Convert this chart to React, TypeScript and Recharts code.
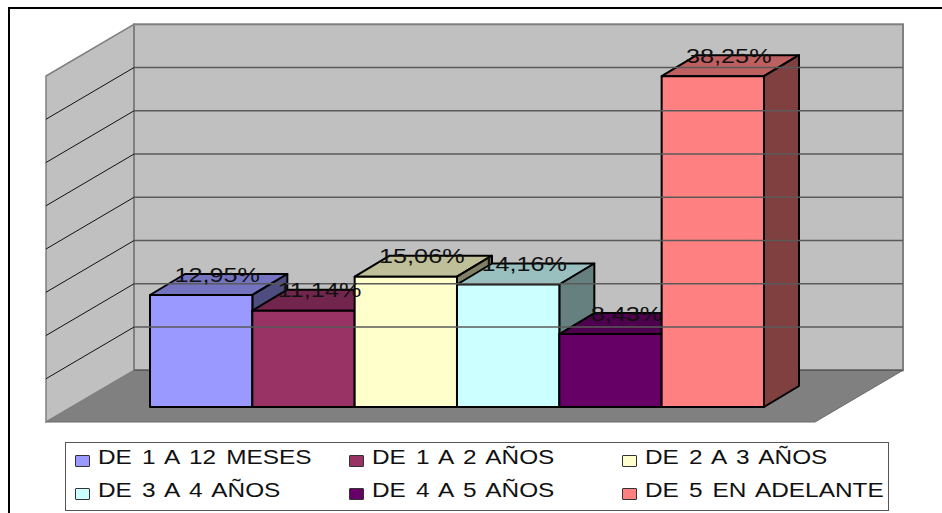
import React from 'react';
import { BarChart, Bar, XAxis, YAxis, ReferenceArea, ReferenceLine, LabelList, Legend } from 'recharts';

const categories = ['DE 1 A 12 MESES', 'DE 1 A 2 AÑOS', 'DE 2 A 3 AÑOS', 'DE 3 A 4 AÑOS', 'DE 4 A 5 AÑOS', 'DE 5 EN ADELANTE'];
const values = [12.95, 11.14, 15.06, 14.16, 8.43, 38.25];
const labels = ['12,95%', '11,14%', '15,06%', '14,16%', '8,43%', '38,25%'];
const colors = ['#9999FF', '#993366', '#FFFFCC', '#CCFFFF', '#660066', '#FF8080'];
const gridTicks = [5, 10, 15, 20, 25, 30, 35];

const row: Record<string, any> = { name: 'tiempo' };
categories.forEach((c, i) => { row[c] = values[i]; });
const data = [row];

const BAR_DX = 35, BAR_DY = 21;
const WALL_LEFT_DX = -16, WALL_BACK_DY = -36.7, SIDE_LEFT_DX = -104, SIDE_FRONT_DY = 15, WALL_RIGHT_DX = 139, FLOOR_RIGHT_DX = 51;

const shade = (hex: string, k: number) => {
  const n = parseInt(hex.slice(1), 16);
  const c = (v: number) => Math.round(v * k);
  return `rgb(${c((n >> 16) & 255)},${c((n >> 8) & 255)},${c(n & 255)})`;
};

const Box = (p: any) => {
  const { x, y, width: w, height: h, fill } = p;
  const st = { stroke: '#000', strokeWidth: 2, strokeLinejoin: 'round' as const };
  return (
    <g>
      <polygon points={`${x},${y} ${x + BAR_DX},${y - BAR_DY} ${x + w + BAR_DX},${y - BAR_DY} ${x + w},${y}`} fill={shade(fill, 0.75)} {...st} />
      <polygon points={`${x + w},${y} ${x + w + BAR_DX},${y - BAR_DY} ${x + w + BAR_DX},${y + h - BAR_DY} ${x + w},${y + h}`} fill={shade(fill, 0.5)} {...st} />
      <rect x={x} y={y} width={w} height={h} fill={fill} {...st} />
    </g>
  );
};

const Walls = (p: any) => {
  const { x, y, width: w, height: h } = p;
  const bx = x + WALL_LEFT_DX, by = y + WALL_BACK_DY;
  const bw = w + WALL_RIGHT_DX - WALL_LEFT_DX;
  const sx = x + SIDE_LEFT_DX, sy = y + SIDE_FRONT_DY;
  return (
    <g>
      <polygon points={`${sx},${sy + h} ${bx},${by + h} ${x + w + WALL_RIGHT_DX},${by + h} ${x + w + FLOOR_RIGHT_DX},${sy + h}`} fill="#808080" stroke="#6a6a6a" strokeWidth={1} />
      <polygon points={`${sx},${sy} ${bx},${by} ${bx},${by + h} ${sx},${sy + h}`} fill="#c0c0c0" stroke="#808080" strokeWidth={1.5} />
      <rect x={bx} y={by} width={bw} height={h} fill="#c0c0c0" stroke="#808080" strokeWidth={2} />
      <line x1={bx} x2={bx + bw} y1={by + h} y2={by + h} stroke="#5a5a5a" strokeWidth={1.5} />
    </g>
  );
};

const GridLine = (p: any) => {
  const { x1, x2, y1 } = p;
  const left = Math.min(x1, x2), right = Math.max(x1, x2);
  const bx = left + WALL_LEFT_DX, by = y1 + WALL_BACK_DY;
  return (
    <g>
      <line x1={left + SIDE_LEFT_DX} y1={y1 + SIDE_FRONT_DY} x2={bx} y2={by} stroke="#111" strokeWidth={1} />
      <line x1={bx} y1={by} x2={right + WALL_RIGHT_DX} y2={by} stroke="#5a5a5a" strokeWidth={1.5} />
    </g>
  );
};

const makeLabel = (text: string) => (p: any) => {
  const cx = p.x + p.width / 2 + 16;
  const cy = p.y - 20.5;
  return (
    <text transform={`translate(${cx},${cy}) scale(1.2,1)`} textAnchor="middle" dominantBaseline="central"
      fontFamily="'Liberation Sans', Arial, sans-serif" fontSize={21} fill="#111">{text}</text>
  );
};

const LegendBox = (p: any) => (
  <div style={{ boxSizing: 'border-box', width: 824, height: 69, border: '1px solid #555', background: '#fff',
    display: 'grid', gridTemplateColumns: '274px 273px 260px', gridAutoRows: '33px', paddingLeft: 9, paddingTop: 0,
    fontFamily: "'Liberation Sans', Arial, sans-serif", fontSize: 19.5, color: '#111' }}>
    {(p.payload || []).map((e: any) => (
      <div key={e.value} style={{ display: 'flex', alignItems: 'center', whiteSpace: 'nowrap', height: 33, marginTop: -2 }}>
        <span style={{ display: 'inline-block', boxSizing: 'border-box', width: 15, height: 12, marginTop: 6, marginRight: 8,
          background: e.color, border: '1.5px solid #333', borderRadius: 1 }} />
        <span style={{ display: 'inline-block', transform: 'scaleX(1.25)', transformOrigin: 'left center', wordSpacing: 2.6 }}>{e.value}</span>
      </div>
    ))}
  </div>
);

export default function App() {
  return (
    <div style={{ position: 'absolute', left: 0, top: 0, width: 942, height: 513, overflow: 'hidden', background: '#fff' }}>
      <div style={{ position: 'absolute', left: 8, top: 7, right: 0, bottom: -5, borderLeft: '2px solid #000', borderTop: '2px solid #000' }} />
      <div style={{ position: 'absolute', left: 0, top: 0 }}>
        <BarChart width={942} height={513} data={data} barGap={0} barCategoryGap={0} barSize={102.33}
          margin={{ left: 150, right: 178, top: 61, bottom: 106 }}>
          <XAxis dataKey="name" hide />
          <YAxis hide domain={[0, 40]} />
          <ReferenceArea y1={0} y2={40} shape={Walls} ifOverflow="visible" />
          {gridTicks.map((t) => (
            <ReferenceLine key={t} y={t} shape={GridLine} ifOverflow="visible" />
          ))}
          {categories.map((c, i) => (
            <Bar key={c} dataKey={c} fill={colors[i]} shape={Box} isAnimationActive={false}>
              <LabelList dataKey={c} content={makeLabel(labels[i])} />
            </Bar>
          ))}
          <Legend verticalAlign="middle" content={LegendBox} wrapperStyle={{ left: 65, top: 442, width: 824, height: 69 }} />
        </BarChart>
      </div>
    </div>
  );
}
